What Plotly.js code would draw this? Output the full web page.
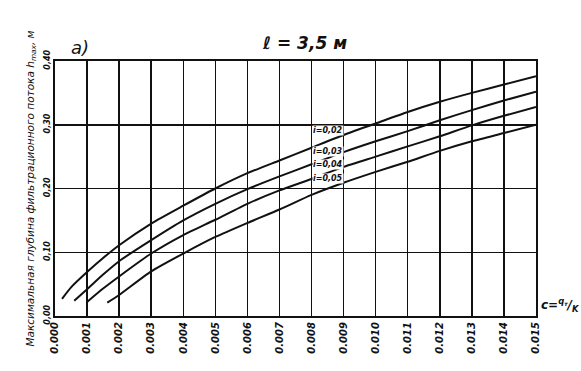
<!DOCTYPE html>
<html>
<head>
<meta charset="utf-8">
<script src="https://cdn.plot.ly/plotly-3.0.1.min.js"></script>
<style>html,body{margin:0;padding:0;background:#fff;}#chart{width:581px;height:371px;}</style>
</head>
<body>
<div id="chart"></div>
<script>
// Data
var xTickVals = [0,0.001,0.002,0.003,0.004,0.005,0.006,0.007,0.008,0.009,0.010,0.011,0.012,0.013,0.014,0.015];
var xTickText = ["0.000","0.001","0.002","0.003","0.004","0.005","0.006","0.007","0.008","0.009","0.010","0.011","0.012","0.013","0.014","0.015"];
var yTickVals = [0,0.1,0.2,0.3,0.4];
var yTickText = ["0,00","0,10","0,20","0,30","0,40"];
var seriesNames = ["i=0,02","i=0,03","i=0,04","i=0,05"];

var c1 = [0.00022,0.0005,0.001,0.0015,0.002,0.003,0.004,0.005,0.006,0.007,0.008,0.009,0.010,0.011,0.012,0.013,0.014,0.015];
var h1 = [0.027,0.045,0.069,0.091,0.111,0.145,0.173,0.200,0.224,0.244,0.264,0.284,0.302,0.320,0.336,0.350,0.363,0.376];

var c2 = [0.0006,0.001,0.0015,0.002,0.003,0.004,0.005,0.006,0.007,0.008,0.009,0.010,0.011,0.012,0.013,0.014,0.015];
var h2 = [0.024,0.042,0.065,0.086,0.119,0.150,0.176,0.199,0.219,0.238,0.257,0.274,0.290,0.307,0.323,0.338,0.352];

var c3 = [0.001,0.0015,0.002,0.003,0.004,0.005,0.006,0.007,0.008,0.009,0.010,0.011,0.012,0.013,0.014,0.015];
var h3 = [0.022,0.043,0.062,0.098,0.127,0.151,0.176,0.197,0.215,0.234,0.250,0.266,0.282,0.299,0.314,0.328];

var c4 = [0.00163,0.002,0.003,0.004,0.005,0.006,0.007,0.008,0.009,0.010,0.011,0.012,0.013,0.014,0.015];
var h4 = [0.021,0.033,0.070,0.098,0.124,0.146,0.167,0.190,0.209,0.226,0.242,0.259,0.274,0.287,0.300];

var labelX = 0.0085;
var labelY = [0.291,0.258,0.237,0.215];

var ink = "#111";
var hand = "DejaVu Sans";

function curve(x, y, name) {
  return {x: x, y: y, name: name, type: "scatter", mode: "lines",
          line: {color: ink, width: 2, shape: "spline", smoothing: 0.6},
          showlegend: false, hoverinfo: "skip"};
}
var data = [curve(c1,h1,seriesNames[0]), curve(c2,h2,seriesNames[1]), curve(c3,h3,seriesNames[2]), curve(c4,h4,seriesNames[3])];

var annotations = [];
for (var k = 0; k < seriesNames.length; k++) {
  annotations.push({x: labelX, y: labelY[k], xref: "x", yref: "y", text: seriesNames[k],
    showarrow: false, font: {family: hand, size: 8, color: ink, style: "italic", weight: "bold"},
    bgcolor: "#fff", borderpad: 0, yanchor: "middle"});
}
annotations.push({x: 0.015, y: 0, xref: "x", yref: "y", xanchor: "left", yanchor: "bottom", xshift: 3, yshift: 0,
  text: "c=<sup>q<sub>т</sub></sup>/<sub>K</sub>", showarrow: false,
  font: {family: hand, size: 12, color: ink, style: "italic", weight: "bold"}});
annotations.push({x: 0.03, y: 1.005, xref: "paper", yref: "paper", xanchor: "left", yanchor: "bottom",
  text: "а)", showarrow: false, font: {family: hand, size: 18, color: ink, style: "italic"}});

var layout = {
  width: 581, height: 371,
  margin: {l: 55, r: 45, t: 61, b: 55},
  paper_bgcolor: "#fff", plot_bgcolor: "#fff",
  title: {text: "ℓ = 3,5 м", x: 0.525, xanchor: "center", y: 0.885, yanchor: "middle",
          font: {family: hand, size: 17, color: ink, style: "italic", weight: "bold"}},
  xaxis: {range: [0, 0.015], tickvals: xTickVals, ticktext: xTickText, tickangle: -90,
          showgrid: true, gridcolor: ink, gridwidth: 1.5, zeroline: false,
          showline: true, linecolor: ink, linewidth: 2, mirror: true, ticks: "",
          tickfont: {family: hand, size: 10, color: ink, style: "italic", weight: "bold"}},
  yaxis: {range: [0, 0.40], tickvals: yTickVals, ticktext: yTickText, tickangle: -90,
          showgrid: true, gridcolor: ink, gridwidth: 1.5, zeroline: false,
          showline: true, linecolor: ink, linewidth: 2, mirror: true, ticks: "",
          tickfont: {family: hand, size: 8, color: ink, style: "italic", weight: "bold"},
          title: {text: "Максимальная глубина фильтрационного потока h<sub>max</sub>, м", standoff: 6,
                  font: {family: hand, size: 10.5, color: ink, style: "italic"}}},
  annotations: annotations
};

Plotly.newPlot("chart", data, layout, {displayModeBar: false, staticPlot: true});
</script>
</body>
</html>
